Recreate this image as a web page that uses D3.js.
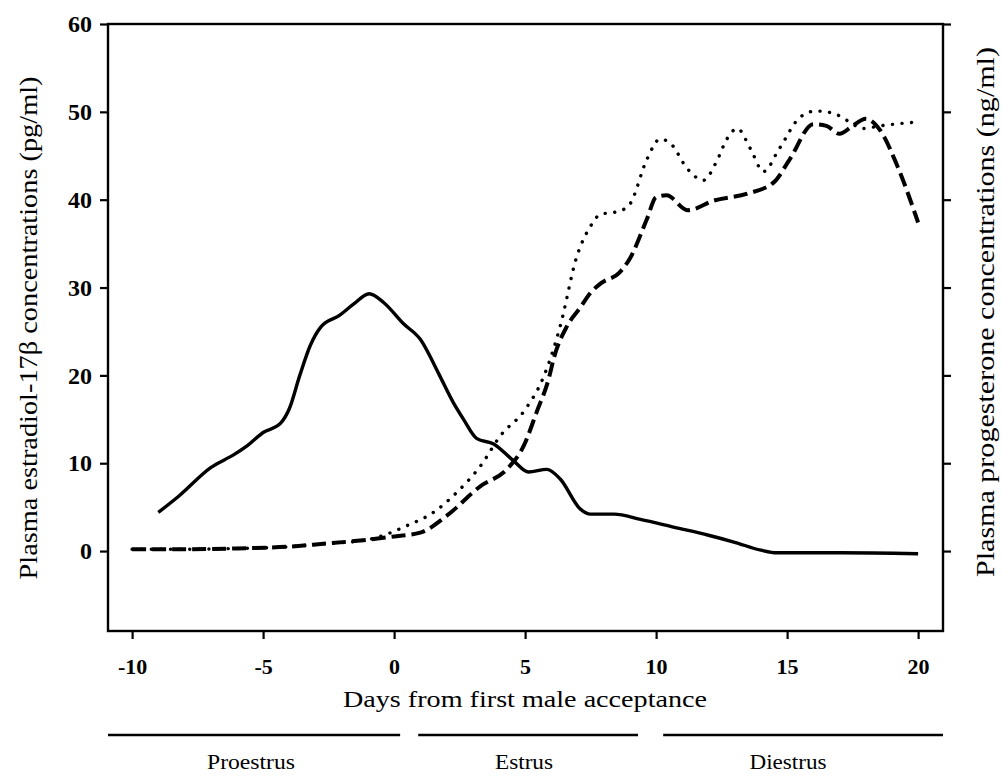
<!DOCTYPE html>
<html>
<head>
<meta charset="utf-8">
<script src="https://cdn.jsdelivr.net/npm/d3@7"></script>
<style>
  html, body { margin: 0; padding: 0; background: #fff; }
  svg { display: block; }
  svg text { font-family: "Liberation Serif", "Times New Roman", Times, serif; }
</style>
</head>
<body>
<script>
// ---------- data ----------
const xTicks = [-10, -5, 0, 5, 10, 15, 20];
const yTicks = [0, 10, 20, 30, 40, 50, 60];

const estradiolDays = [-9, -8.2, -7, -6.1, -5.6, -5, -4.35, -4, -3.6, -3.2, -2.8, -2.1, -1.55, -0.95, -0.4, 0.35, 1.0, 1.7, 2.26, 2.65, 3.16, 3.8, 4.55, 5.13, 5.83, 6.34, 7.1, 7.5, 8.4, 9.4, 10.7, 12.0, 13.0, 14.0, 14.6, 15.0, 17.0, 20.0];
const estradiolVals = [4.4, 6.3, 9.5, 11.0, 12.0, 13.5, 14.5, 16.2, 20.0, 23.4, 25.5, 26.8, 28.1, 29.3, 28.3, 25.9, 24.1, 20.2, 16.9, 15.0, 12.8, 12.2, 10.3, 9.0, 9.3, 8.2, 4.8, 4.2, 4.2, 3.6, 2.7, 1.8, 1.0, 0.1, -0.2, -0.2, -0.2, -0.3];

const progDays = [-10, -8, -6, -4, -2.8, -1, -0.2, 1.0, 2.0, 3.3, 4.3, 4.95, 5.45, 5.9, 6.1, 6.6, 7.1, 7.5, 7.9, 8.6, 9.0, 9.65, 10.0, 10.4, 11.2, 12.2, 13.5, 14.5, 15.1, 16.0, 16.5, 17.0, 17.5, 18.0, 18.55, 19.2, 20.0];
const progVals = [0.2, 0.2, 0.3, 0.5, 0.8, 1.3, 1.6, 2.1, 4.0, 7.4, 9.3, 12.0, 15.9, 19.6, 22.0, 25.6, 27.7, 29.4, 30.5, 31.7, 33.3, 37.8, 40.3, 40.5, 38.8, 39.9, 40.7, 42.0, 44.6, 48.6, 48.4, 47.5, 48.4, 49.2, 47.9, 43.9, 37.4];

const prog2Days = [-10, -8, -6, -4, -2.8, -1, -0.5, 0.5, 1.5, 2.4, 3.3, 4.05, 5.0, 5.7, 6.34, 6.97, 7.5, 7.86, 8.6, 9.0, 9.65, 10.15, 10.55, 11.2, 11.8, 12.3, 12.7, 13.1, 13.6, 14.1, 14.7, 15.5, 16.1, 16.8, 17.3, 17.9, 18.55, 19.8];
const prog2Vals = [0.2, 0.2, 0.3, 0.5, 0.8, 1.3, 1.7, 2.9, 4.4, 6.7, 9.7, 13.1, 16.1, 19.8, 25.6, 33.5, 37.0, 38.3, 38.7, 39.5, 44.6, 46.9, 46.4, 43.5, 42.2, 44.3, 46.9, 48.1, 45.8, 43.2, 45.8, 49.4, 50.1, 49.8, 49.0, 48.1, 48.4, 48.8];

const phaseNames = ["Proestrus", "Estrus", "Diestrus"];
const phaseStart = [-10.92, 0.92, 10.27];
const phaseEnd = [0.23, 9.31, 20.95];

const yTitle = "Plasma estradiol-17\u03b2 concentrations (pg/ml)";
const y2Title = "Plasma progesterone concentrations (ng/ml)";
const xTitle = "Days from first male acceptance";

// ---------- layout ----------
const W = 1003, H = 781;

const svg = d3.select("body").append("svg")
  .attr("width", W).attr("height", H)
  .style("background", "#fff");

const x = d3.scaleLinear().domain([-10.92, 20.95]).range([108, 943]);
const y = d3.scaleLinear().domain([-9.1, 60]).range([631, 24]);

// frame
svg.append("rect")
  .attr("x", x.range()[0]).attr("y", y.range()[1])
  .attr("width", x.range()[1] - x.range()[0])
  .attr("height", y.range()[0] - y.range()[1])
  .attr("fill", "none").attr("stroke", "#000").attr("stroke-width", 2.4);

// left axis
const gL = svg.append("g").attr("transform", `translate(${x.range()[0]},0)`)
  .call(d3.axisLeft(y).tickValues(yTicks).tickSize(8).tickPadding(8).tickFormat(d => String(d)));
gL.attr("font-family", null);
gL.select(".domain").remove();
gL.selectAll("line").attr("stroke-width", 2.2);
gL.selectAll("text").attr("font-size", 24).attr("font-weight", "bold").attr("fill", "#000");

// right axis (unlabelled)
const gR = svg.append("g").attr("transform", `translate(${x.range()[1]},0)`)
  .call(d3.axisRight(y).tickValues(yTicks).tickSize(8).tickFormat(""));
gR.select(".domain").remove();
gR.selectAll("line").attr("stroke-width", 2.2);

// bottom axis
const gB = svg.append("g").attr("transform", `translate(0,${y.range()[0]})`)
  .call(d3.axisBottom(x).tickValues(xTicks).tickSize(8).tickFormat(d => String(d)));
gB.attr("font-family", null);
gB.select(".domain").remove();
gB.selectAll("line").attr("stroke-width", 2.2);
gB.selectAll("text").attr("font-size", 22).attr("font-weight", "bold")
  .attr("fill", "#000").attr("y", 43).attr("dy", 0);

// lines
const mk = (days, vals) => days.map((d, i) => [d, vals[i]]);
const line = d3.line().x(d => x(d[0])).y(d => y(d[1])).curve(d3.curveMonotoneX);

svg.append("path").datum(mk(progDays, progVals))
  .attr("d", line).attr("fill", "none").attr("stroke", "#000")
  .attr("stroke-width", 4).attr("stroke-dasharray", "14,6");

svg.append("path").datum(mk(prog2Days, prog2Vals))
  .attr("d", line).attr("fill", "none").attr("stroke", "#000")
  .attr("stroke-width", 3.4).attr("stroke-linecap", "round").attr("stroke-dasharray", "0.1,9.5");

svg.append("path").datum(mk(estradiolDays, estradiolVals))
  .attr("d", line).attr("fill", "none").attr("stroke", "#000")
  .attr("stroke-width", 3.4).attr("stroke-linejoin", "round");

// titles
svg.append("text")
  .attr("transform", "translate(37,328) rotate(-90)")
  .attr("text-anchor", "middle").attr("font-size", 26)
  .attr("textLength", 503).attr("lengthAdjust", "spacingAndGlyphs")
  .text(yTitle);

svg.append("text")
  .attr("transform", "translate(994,312) rotate(-90)")
  .attr("text-anchor", "middle").attr("font-size", 25)
  .attr("textLength", 530).attr("lengthAdjust", "spacingAndGlyphs")
  .text(y2Title);

svg.append("text")
  .attr("x", 525).attr("y", 707)
  .attr("text-anchor", "middle").attr("font-size", 23)
  .attr("textLength", 364).attr("lengthAdjust", "spacingAndGlyphs")
  .text(xTitle);

// phase bars
const phaseLabelX = [251, 524, 788];
const phaseLabelLen = [88, 58, 77];
phaseNames.forEach((name, i) => {
  svg.append("line")
    .attr("x1", x(phaseStart[i])).attr("x2", x(phaseEnd[i]))
    .attr("y1", 735).attr("y2", 735)
    .attr("stroke", "#000").attr("stroke-width", 2.4);
  svg.append("text")
    .attr("x", phaseLabelX[i]).attr("y", 769)
    .attr("text-anchor", "middle").attr("font-size", 20)
    .attr("textLength", phaseLabelLen[i]).attr("lengthAdjust", "spacingAndGlyphs")
    .text(name);
});
</script>
</body>
</html>
